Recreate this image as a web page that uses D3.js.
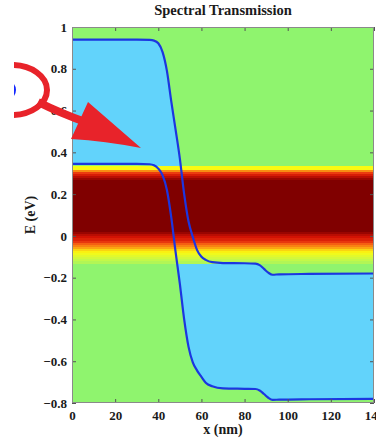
<!DOCTYPE html>
<html>
<head>
<meta charset="utf-8">
<script src="https://cdn.jsdelivr.net/npm/d3@7"></script>
<style>
  html, body { margin: 0; padding: 0; background: #ffffff; }
  svg { display: block; }
  text { font-family: "Liberation Serif", "DejaVu Serif", serif; font-weight: bold; fill: #1a1a1a; }
</style>
</head>
<body>
<svg id="chart" width="376" height="440"></svg>
<script>
// ---------------- data ----------------
const title = "Spectral Transmission";
const xLabel = "x (nm)";
const yLabel = "E (eV)";

// position along device (nm), shared by both band edges
const positionNm = [0, 30, 36, 38, 40, 42, 44, 46, 48, 50, 52, 54, 56, 58, 60, 62, 65, 70, 80, 85, 87, 89, 91, 93, 96, 110, 140];
// upper band edge (eV)
const upperEdge = [0.94, 0.94, 0.938, 0.935, 0.922, 0.88, 0.79, 0.645, 0.51, 0.37, 0.2, 0.07, -0.005, -0.068, -0.1, -0.115, -0.126, -0.13, -0.131, -0.133, -0.14, -0.158, -0.176, -0.186, -0.184, -0.182, -0.18];
// lower band edge (eV)
const lowerEdge = [0.345, 0.345, 0.343, 0.338, 0.322, 0.29, 0.22, 0.09, -0.075, -0.23, -0.4, -0.53, -0.605, -0.645, -0.675, -0.703, -0.72, -0.73, -0.732, -0.733, -0.74, -0.757, -0.775, -0.785, -0.784, -0.782, -0.78];

// spectral transmission versus energy (uniform along x)
const transEnergy = [0.33, 0.32, 0.31, 0.30, 0.29, 0.28, 0.27, 0.26, 0.25, 0.24, 0.23, 0.22, 0.21, 0.20, 0.19, 0.18, 0.17, 0.16, 0.15, 0.14, 0.13, 0.12, 0.11, 0.10, 0.09, 0.08, 0.07, 0.06, 0.05, 0.04, 0.03, 0.02, 0.01, 0.00, -0.01, -0.02, -0.03, -0.04, -0.05, -0.06, -0.07, -0.08, -0.09, -0.10, -0.11, -0.12];
const transValue  = [0.6, 0.72, 0.82, 0.88, 0.93, 0.97, 1, 1, 1, 1, 1, 1, 1, 1, 1, 1, 1, 1, 1, 1, 1, 1, 1, 1, 1, 1, 1, 1, 1, 1, 1, 0.97, 0.93, 0.9, 0.87, 0.83, 0.77, 0.73, 0.69, 0.64, 0.61, 0.59, 0.575, 0.56, 0.545, 0.53];

const xTicks = [0, 20, 40, 60, 80, 100, 120, 140];
const xTickLabels = ["0", "20", "40", "60", "80", "100", "120", "140"];
const yTicks = [-0.8, -0.6, -0.4, -0.2, 0, 0.2, 0.4, 0.6, 0.8, 1];
const yTickLabels = ["\u22120.8", "\u22120.6", "\u22120.4", "\u22120.2", "0", "0.2", "0.4", "0.6", "0.8", "1"];

// ---------------- layout ----------------
const svg = d3.select("#chart");
const mLeft = 72, mRight = 374, mTop = 27, mBottom = 403;

const x = d3.scaleLinear().domain([0, 140]).range([mLeft, mRight]);
const y = d3.scaleLinear().domain([-0.8, 1]).range([mBottom, mTop]);

const colGreen = "#8ff46e";
const colBlue = "#62d3fb";
const colLine = "#1c36e0";

const cmap = d3.scaleLinear()
  .domain([0.5, 0.55, 0.6, 0.7, 0.8, 0.9, 1.0])
  .range(["#8ff46e", "#c9f845", "#fafa12", "#fb9c12", "#f24512", "#d21204", "#800000"])
  .interpolate(d3.interpolateRgb)
  .clamp(true);

const defs = svg.append("defs");
defs.append("clipPath").attr("id", "plotClip")
  .append("rect").attr("x", mLeft).attr("y", mTop).attr("width", mRight - mLeft).attr("height", mBottom - mTop);

const plot = svg.append("g").attr("clip-path", "url(#plotClip)");

// background
plot.append("rect").attr("x", mLeft).attr("y", mTop).attr("width", mRight - mLeft).attr("height", mBottom - mTop).attr("fill", colGreen);

// region between band edges
const pts = positionNm.map((p, i) => ({ p, u: upperEdge[i], l: lowerEdge[i] }));
const area = d3.area().x(d => x(d.p)).y0(d => y(d.l)).y1(d => y(d.u)).curve(d3.curveMonotoneX);
plot.append("path").datum(pts).attr("d", area).attr("fill", colBlue);

// transmission heat band: drawn from the lowest row up, each row overlapping the next to avoid seams
const rows = transEnergy.map((e, i) => ({ e, t: transValue[i] })).sort((a, b) => a.e - b.e);
plot.append("g").attr("shape-rendering", "crispEdges")
  .selectAll("rect").data(rows).join("rect")
  .attr("x", x(0))
  .attr("width", x(140) - x(0))
  .attr("y", d => y(d.e + 0.005))
  .attr("height", d => y(d.e - 0.005) - y(d.e + 0.005) + 1.5)
  .attr("fill", d => cmap(d.t));

// band edge lines
const lineU = d3.line().x(d => x(d.p)).y(d => y(d.u)).curve(d3.curveMonotoneX);
const lineL = d3.line().x(d => x(d.p)).y(d => y(d.l)).curve(d3.curveMonotoneX);
plot.append("path").datum(pts).attr("d", lineU).attr("fill", "none").attr("stroke", colLine).attr("stroke-width", 2.2);
plot.append("path").datum(pts).attr("d", lineL).attr("fill", "none").attr("stroke", colLine).attr("stroke-width", 2.2);

// ---------------- axes ----------------
function styleAxis(g) {
  g.select(".domain").remove();
  g.selectAll(".tick line").attr("stroke", "#555").attr("stroke-width", 1);
  g.selectAll(".tick text").attr("font-size", 13).attr("fill", "#1a1a1a")
    .attr("font-family", "Liberation Serif, DejaVu Serif, serif").attr("font-weight", "bold");
}
svg.append("g").attr("transform", `translate(0,${mBottom})`)
  .call(d3.axisBottom(x).tickValues(xTicks).tickFormat((d, i) => xTickLabels[i]).tickSizeInner(-4).tickSizeOuter(0).tickPadding(8))
  .call(styleAxis);
svg.append("g").attr("transform", `translate(${mLeft},0)`)
  .call(d3.axisLeft(y).tickValues(yTicks).tickFormat((d, i) => yTickLabels[i]).tickSizeInner(-4).tickSizeOuter(0).tickPadding(5))
  .call(styleAxis);
svg.append("g").attr("transform", `translate(0,${mTop})`)
  .call(d3.axisTop(x).tickValues(xTicks).tickFormat("").tickSizeInner(-4).tickSizeOuter(0))
  .call(styleAxis);
svg.append("g").attr("transform", `translate(${mRight},0)`)
  .call(d3.axisRight(y).tickValues(yTicks).tickFormat("").tickSizeInner(-4).tickSizeOuter(0))
  .call(styleAxis);

svg.append("rect").attr("x", mLeft + 0.5).attr("y", mTop + 0.5).attr("width", mRight - mLeft - 1).attr("height", mBottom - mTop - 1)
  .attr("fill", "none").attr("stroke", "#8a8a8a").attr("stroke-width", 1);

// titles
svg.append("text").attr("x", (mLeft + mRight) / 2).attr("y", 15).attr("text-anchor", "middle").attr("font-size", 14.5).text(title);
svg.append("text").attr("x", (mLeft + mRight) / 2).attr("y", 434).attr("text-anchor", "middle").attr("font-size", 14).text(xLabel);
svg.append("text").attr("transform", `translate(35,${(mTop + mBottom) / 2}) rotate(-90)`).attr("text-anchor", "middle").attr("font-size", 14).text(yLabel);

// ---------------- annotation overlay ----------------
defs.append("clipPath").attr("id", "annoClip")
  .append("rect").attr("x", 14).attr("y", 0).attr("width", 362).attr("height", 440);
const anno = svg.append("g").attr("clip-path", "url(#annoClip)");
const red = "#e8232a";
anno.append("circle").attr("cx", 6).attr("cy", 90).attr("r", 10).attr("fill", "#1428ff");
anno.append("ellipse").attr("cx", 12).attr("cy", 90).attr("rx", 35).attr("ry", 25)
  .attr("fill", "none").attr("stroke", red).attr("stroke-width", 6);
anno.append("path").attr("d", "M38,102 Q60,113 88,123").attr("fill", "none").attr("stroke", red).attr("stroke-width", 8);
anno.append("path").attr("d", "M88,102 L141,148 Q105,141 71,139 Z").attr("fill", red);
</script>
</body>
</html>
